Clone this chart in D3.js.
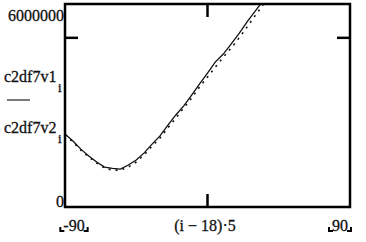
<!DOCTYPE html>
<html>
<head>
<meta charset="utf-8">
<script src="https://cdn.jsdelivr.net/npm/d3@7"></script>
<style>
  body { margin: 0; background: #fff; }
</style>
</head>
<body>
<div id="chart"></div>
<script>
// (i - 18) * 5 for i = 0..26 (rest leaves the plot at the top)
const angles = [-90, -85, -80, -75, -70, -65, -60, -55, -50, -45, -40, -35, -30, -25, -20,
  -15, -10, -5, 0, 5, 10, 15, 20, 25, 30, 35, 40];

// c2df7v1 (solid)
const v1 = [2.16e6, 1.95e6, 1.71e6, 1.51e6, 1.33e6, 1.18e6, 1.14e6, 1.12e6, 1.24e6, 1.39e6,
  1.60e6, 1.86e6, 2.10e6, 2.42e6, 2.72e6, 2.99e6, 3.31e6, 3.64e6, 3.96e6, 4.29e6, 4.52e6,
  4.82e6, 5.13e6, 5.47e6, 5.78e6, 6.09e6, 6.40e6];

// c2df7v2 (dotted)
const v2 = [2.13e6, 1.92e6, 1.68e6, 1.48e6, 1.30e6, 1.15e6, 1.09e6, 1.09e6, 1.18e6, 1.33e6,
  1.54e6, 1.80e6, 2.04e6, 2.34e6, 2.63e6, 2.93e6, 3.22e6, 3.55e6, 3.84e6, 4.14e6, 4.43e6,
  4.70e6, 5.00e6, 5.32e6, 5.65e6, 5.97e6, 6.30e6];

const yTickLabels = ['0', '6000000'];
const xTickLabels = ['-90', '90'];

const W = 366, H = 242;
const pL = 65, pR = 350, pT = 4, pB = 207;
const serif = 'Liberation Serif';

const svg = d3.select('#chart')
    .append('svg')
    .attr('width', W)
    .attr('height', H)
    .style('font-family', serif);

const x = d3.scaleLinear().domain([-90, 90]).range([pL, pR]);
const y = d3.scaleLinear().domain([0, 6e6]).range([pB, pT]);

// clip so curves stop at the frame
svg.append('clipPath')
    .attr('id', 'plot')
    .append('rect')
    .attr('x', pL).attr('y', pT)
    .attr('width', pR - pL).attr('height', pB - pT);

const line = d3.line()
    .x((d, i) => x(angles[i]))
    .y(d => y(d));

svg.append('path')
    .datum(v2)
    .attr('clip-path', 'url(#plot)')
    .attr('d', line)
    .attr('fill', 'none')
    .attr('stroke', '#111')
    .attr('stroke-width', 1.6)
    .attr('stroke-dasharray', '2,5');

svg.append('path')
    .datum(v1)
    .attr('clip-path', 'url(#plot)')
    .attr('d', line)
    .attr('fill', 'none')
    .attr('stroke', '#111')
    .attr('stroke-width', 1.3);

// frame
svg.append('rect')
    .attr('x', pL).attr('y', pT)
    .attr('width', pR - pL).attr('height', pB - pT)
    .attr('fill', 'none')
    .attr('stroke', '#000')
    .attr('stroke-width', 2.5);

// inward ticks at mid x and at 5e6
const tk = 13;
svg.append('line')
    .attr('x1', x(0)).attr('x2', x(0))
    .attr('y1', pB).attr('y2', pB - tk)
    .attr('stroke', '#000').attr('stroke-width', 2.5);
svg.append('line')
    .attr('x1', x(0)).attr('x2', x(0))
    .attr('y1', pT).attr('y2', pT + tk)
    .attr('stroke', '#000').attr('stroke-width', 2.5);
svg.append('line')
    .attr('x1', pL).attr('x2', pL + tk)
    .attr('y1', y(5e6)).attr('y2', y(5e6))
    .attr('stroke', '#000').attr('stroke-width', 2.5);
svg.append('line')
    .attr('x1', pR).attr('x2', pR - tk)
    .attr('y1', y(5e6)).attr('y2', y(5e6))
    .attr('stroke', '#000').attr('stroke-width', 2.5);

// text gets a hairline stroke to look like the scanned original
function label(xp, yp, s, size, anchor) {
  return svg.append('text')
      .attr('x', xp).attr('y', yp)
      .attr('text-anchor', anchor || 'start')
      .style('font-size', size + 'px')
      .attr('fill', '#111')
      .attr('stroke', '#111')
      .attr('stroke-width', 0.3)
      .text(s);
}

// y labels
label(pL - 1, y(0), yTickLabels[0], 16, 'end');
label(pL - 1, pT + 17, yTickLabels[1], 16, 'end');

// y axis title, stacked Mathcad style
[{ t: 'c2df7v1', y: 82 }, { t: 'c2df7v2', y: 133 }].forEach(d => {
  label(4, d.y, d.t, 16);
  label(58, d.y + 10, 'i', 13);
});
svg.append('line')
    .attr('x1', 7).attr('x2', 30)
    .attr('y1', 100).attr('y2', 100)
    .attr('stroke', '#222').attr('stroke-width', 1.2);

// x labels with the little corner marks
function marked(cx, s) {
  const t = label(cx, 231, s, 16, 'middle');
  const w = t.node().getComputedTextLength();
  const l = cx - w / 2 - 3, r = cx + w / 2 + 3;
  svg.append('path')
      .attr('d', `M${l},227 L${l},231 L${l + 4},231`)
      .attr('fill', 'none').attr('stroke', '#000').attr('stroke-width', 2);
  svg.append('path')
      .attr('d', `M${r},227 L${r},231 L${r - 4},231`)
      .attr('fill', 'none').attr('stroke', '#000').attr('stroke-width', 2);
}
marked(74, xTickLabels[0]);
marked(340, xTickLabels[1]);

label(205, 231, '(i − 18)·5', 16, 'middle');
</script>
</body>
</html>
